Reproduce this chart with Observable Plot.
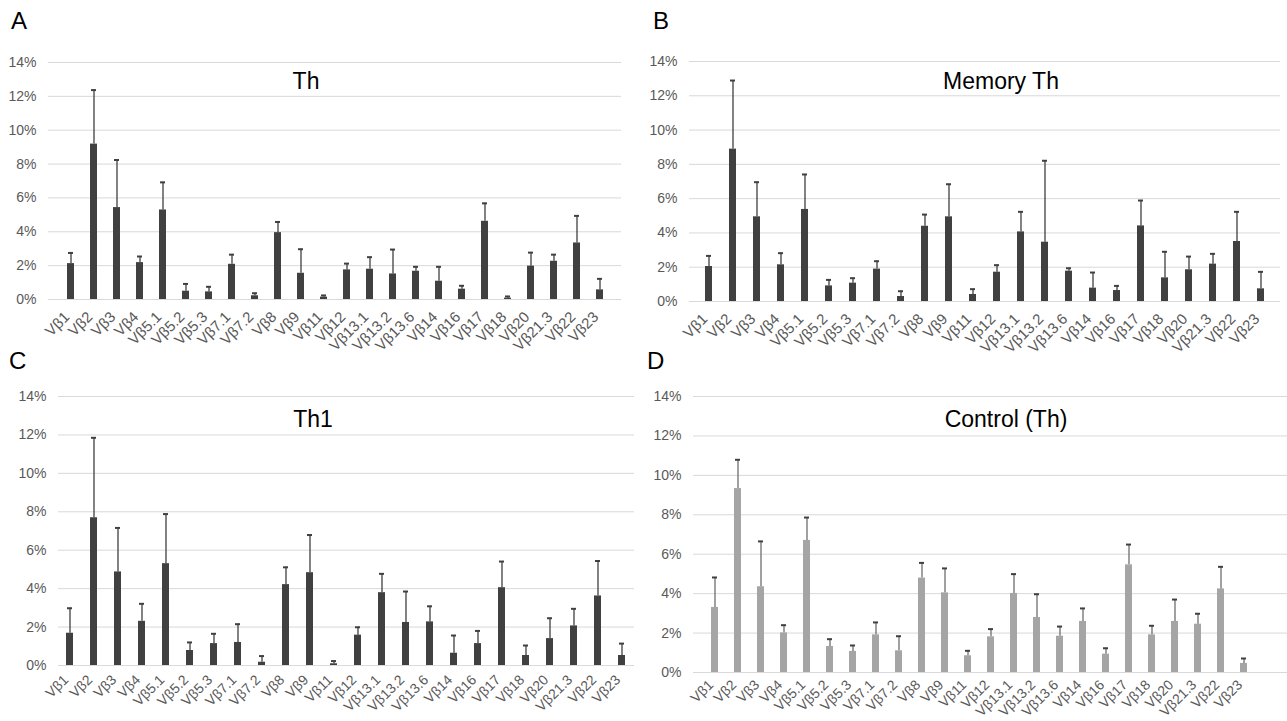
<!DOCTYPE html>
<html>
<head>
<meta charset="utf-8">
<script src="https://cdn.jsdelivr.net/npm/d3@7"></script>
<script src="https://cdn.jsdelivr.net/npm/@observablehq/plot@0.6"></script>
<style>
  html, body { margin: 0; padding: 0; background: #fff; }
  #root { position: relative; width: 1287px; height: 721px; overflow: hidden; font-family: "Liberation Sans", Arial, sans-serif; }
  .panel { position: absolute; overflow: visible; }
  .letter { position: absolute; font-size: 24px; color: #000; line-height: 1; }
  .title { position: absolute; font-size: 23px; color: #000; line-height: 1; transform: translateX(-50%); white-space: nowrap; }
</style>
</head>
<body>
<div id="root"></div>
<script>
const categories = ["Vβ1","Vβ2","Vβ3","Vβ4","Vβ5.1","Vβ5.2","Vβ5.3","Vβ7.1","Vβ7.2","Vβ8","Vβ9","Vβ11","Vβ12","Vβ13.1","Vβ13.2","Vβ13.6","Vβ14","Vβ16","Vβ17","Vβ18","Vβ20","Vβ21.3","Vβ22","Vβ23"];
const yTicks = [0, 2, 4, 6, 8, 10, 12, 14];

// Panel A: Th (mean %, SD %)
const thMean = [2.12,9.18,5.43,2.18,5.29,0.49,0.45,2.08,0.22,3.95,1.55,0.14,1.75,1.79,1.51,1.67,1.08,0.61,4.62,0.08,1.97,2.26,3.34,0.57];
const thSD   = [0.63,3.19,2.81,0.36,1.63,0.43,0.30,0.57,0.15,0.63,1.42,0.10,0.37,0.71,1.44,0.26,0.85,0.20,1.06,0.10,0.80,0.39,1.60,0.65];
// Panel B: Memory Th
const memMean = [2.04,8.89,4.94,2.14,5.37,0.91,1.07,1.89,0.29,4.39,4.94,0.41,1.71,4.06,3.46,1.77,0.78,0.64,4.41,1.38,1.85,2.18,3.50,0.74];
const memSD   = [0.62,4.00,2.02,0.68,2.04,0.35,0.29,0.46,0.31,0.68,1.90,0.31,0.41,1.17,4.75,0.17,0.91,0.27,1.48,1.52,0.77,0.60,1.73,0.99];
// Panel C: Th1
const th1Mean = [1.68,7.69,4.87,2.30,5.30,0.78,1.14,1.20,0.17,4.21,4.83,0.09,1.58,3.79,2.24,2.27,0.64,1.14,4.05,0.52,1.40,2.06,3.62,0.52];
const th1SD   = [1.30,4.16,2.29,0.91,2.58,0.42,0.51,0.95,0.32,0.90,1.96,0.14,0.41,0.98,1.61,0.81,0.92,0.66,1.36,0.52,1.06,0.89,1.82,0.62];
// Panel D: Control (Th)
const ctlMean = [3.30,9.33,4.35,2.01,6.70,1.32,1.07,1.91,1.10,4.79,4.04,0.85,1.81,4.01,2.79,1.84,2.59,0.93,5.46,1.91,2.59,2.45,4.24,0.46];
const ctlSD   = [1.52,1.46,2.30,0.39,1.16,0.37,0.30,0.63,0.74,0.77,1.24,0.25,0.39,0.98,1.18,0.49,0.66,0.30,1.03,0.46,1.11,0.53,1.12,0.25];

const panelLetters = ["A", "B", "C", "D"];
const panelTitles = ["Th", "Memory Th", "Th1", "Control (Th)"];

const root = document.getElementById("root");

function makePanel(cfg) {
  const data = categories.map((c, i) => ({c, m: cfg.mean[i], u: cfg.mean[i] + cfg.sd[i]}));
  const svg = Plot.plot({
    width: cfg.width, height: cfg.height,
    marginLeft: cfg.mL, marginRight: cfg.mR, marginTop: cfg.mT, marginBottom: cfg.mB,
    style: {fontFamily: '"Liberation Sans", Arial, sans-serif', fontSize: "14px", color: "#595959", background: "transparent"},
    x: {domain: categories, paddingInner: 0.7, paddingOuter: 0.35, insetRight: cfg.insetR || 0, label: null},
    y: {domain: [0, 14], label: null},
    marks: [
      Plot.gridY(yTicks, {stroke: "#d9d9d9", strokeOpacity: 1, strokeWidth: 1}),
      Plot.axisY(yTicks, {tickSize: 0, tickPadding: 12, tickFormat: d => d + "%", fill: "#595959", fontSize: 14, label: null}),
      Plot.axisX({tickRotate: -45, tickSize: 0, tickPadding: cfg.xPad, dx: -4, fill: "#595959", fontSize: cfg.xFont, label: null}),
      Plot.barY(data, {x: "c", y: "m", fill: cfg.bar}),
      Plot.ruleX(data, {x: "c", y1: "m", y2: "u", stroke: cfg.err, strokeWidth: 1.3}),
      Plot.tickY(data, {x: "c", y: "u", stroke: cfg.cap, strokeWidth: 2, insetLeft: 1, insetRight: 1})
    ]
  });
  svg.classList.add("panel");
  svg.style.left = cfg.left + "px";
  svg.style.top = cfg.top + "px";
  root.appendChild(svg);

  const letter = document.createElement("div");
  letter.className = "letter";
  letter.textContent = cfg.letter;
  letter.style.left = cfg.letterX + "px";
  letter.style.top = cfg.letterY + "px";
  root.appendChild(letter);

  const title = document.createElement("div");
  title.className = "title";
  title.textContent = cfg.title;
  title.style.left = cfg.titleX + "px";
  title.style.top = cfg.titleY + "px";
  root.appendChild(title);
}

makePanel({left: 0, top: 40, width: 640, height: 320, mL: 48, mR: 19, mT: 22, mB: 61, xPad: 15, xFont: 15,
  mean: thMean, sd: thSD, bar: "#404040", err: "#404040", cap: "#404040",
  letter: panelLetters[0], letterX: 11, letterY: 9, title: panelTitles[0], titleX: 306, titleY: 70});
makePanel({left: 640, top: 40, width: 647, height: 320, mL: 49, mR: 7, mT: 21, mB: 59, xPad: 15, xFont: 15,
  mean: memMean, sd: memSD, bar: "#404040", err: "#404040", cap: "#404040",
  letter: panelLetters[1], letterX: 653, letterY: 9, title: panelTitles[1], titleX: 1001, titleY: 70});
makePanel({left: 0, top: 370, width: 640, height: 351, mL: 58, mR: 6, mT: 26, mB: 56, xPad: 12, xFont: 14,
  mean: th1Mean, sd: th1SD, bar: "#404040", err: "#404040", cap: "#404040",
  letter: panelLetters[2], letterX: 9, letterY: 349, title: panelTitles[2], titleX: 313, titleY: 408});
makePanel({left: 640, top: 370, width: 647, height: 351, mL: 53, mR: 0, mT: 26, mB: 49, insetR: 22, xPad: 10, xFont: 14,
  mean: ctlMean, sd: ctlSD, bar: "#a5a5a5", err: "#6e6e6e", cap: "#404040",
  letter: panelLetters[3], letterX: 647, letterY: 349, title: panelTitles[3], titleX: 1006, titleY: 408});
</script>
</body>
</html>
